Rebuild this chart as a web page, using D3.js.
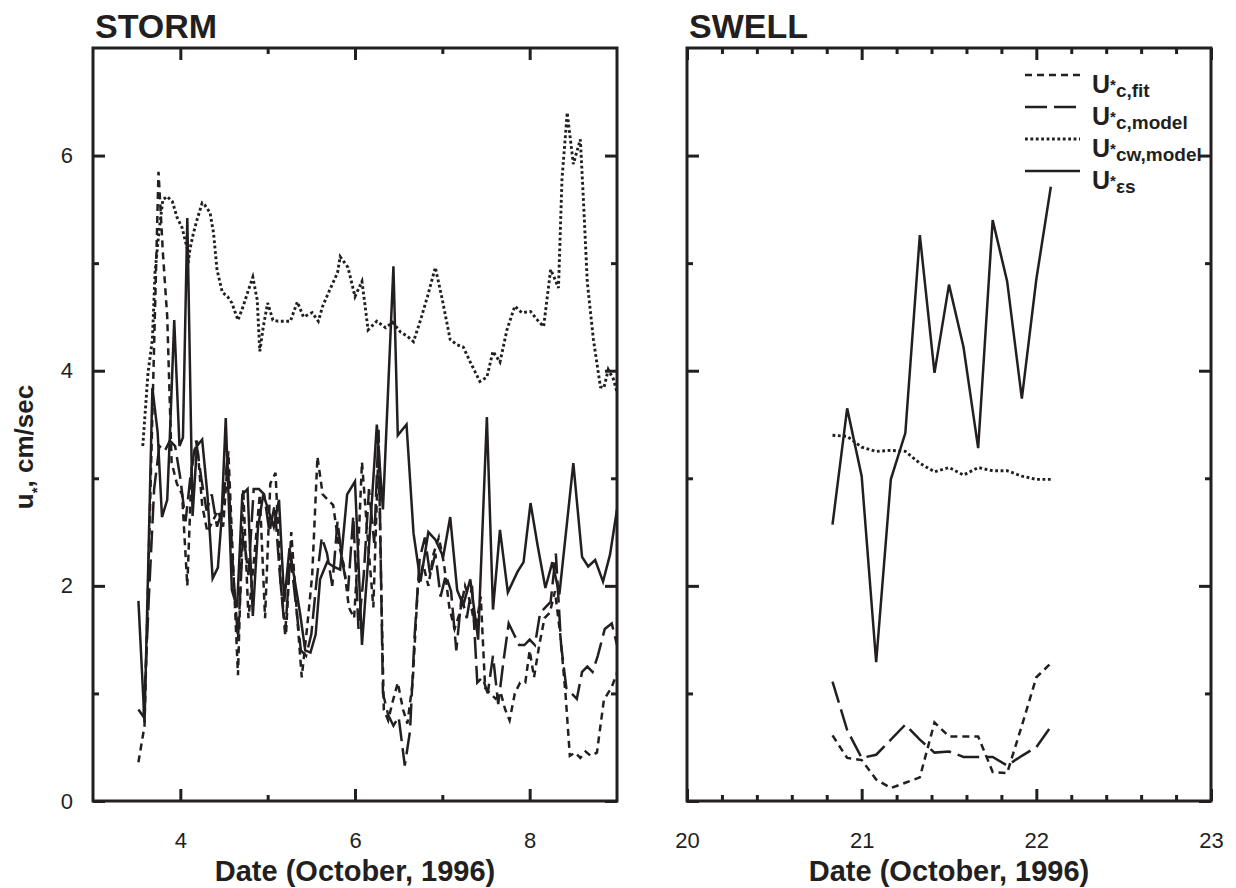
<!DOCTYPE html>
<html>
<head>
<meta charset="utf-8">
<script src="https://cdn.jsdelivr.net/npm/d3@7"></script>
<style>
  html, body { margin: 0; padding: 0; background: #fff; }
  svg { display: block; }
  text { font-family: 'Liberation Sans', Arial, Helvetica, sans-serif; fill: #231f20; }
</style>
</head>
<body>
<svg id="chart" width="1236" height="888"></svg>
<script>
// ---- STORM period (3-9 October 1996) ----
const stormFitDate = [3.52,3.59,3.75,3.80,3.85,3.90,3.96,4.02,4.08,4.13,4.19,4.25,4.31,4.37,4.43,4.49,4.55,4.61,4.66,4.72,4.78,4.85,4.91,4.97,5.03,5.09,5.15,5.21,5.27,5.33,5.39,5.45,5.51,5.57,5.63,5.69,5.75,5.81,5.87,5.93,5.99,6.04,6.08,6.15,6.21,6.27,6.30,6.33,6.38,6.43,6.49,6.55,6.60,6.66,6.72,6.78,6.84,6.90,6.96,7.02,7.08,7.14,7.20,7.26,7.32,7.38,7.44,7.49,7.55,7.61,7.67,7.72,7.77,7.83,7.89,7.95,8.00,8.05,8.11,8.17,8.23,8.29,8.35,8.41,8.46,8.52,8.58,8.64,8.70,8.77,8.85,8.94,9.00];
const stormFit     = [0.36,0.70,5.85,5.10,4.50,3.15,2.95,2.85,2.00,3.10,3.35,2.75,2.50,2.60,2.70,2.55,3.25,2.10,1.17,2.90,1.70,2.30,2.85,1.70,2.95,3.05,2.00,1.55,2.50,1.80,1.15,1.60,2.10,3.20,2.85,2.80,2.75,2.40,2.20,1.80,1.70,2.40,3.15,2.40,1.80,3.30,2.00,0.85,0.75,0.92,1.10,0.85,0.72,1.10,2.00,2.20,2.00,2.30,2.45,2.20,1.80,1.60,1.75,2.00,1.85,1.60,1.90,1.05,1.00,0.95,1.00,0.85,0.75,1.00,1.10,1.10,1.40,1.15,1.45,1.70,1.75,1.95,1.55,1.00,0.42,0.45,0.40,0.46,0.42,0.45,0.94,1.06,1.19];

const stormModelDate = [3.52,3.58,3.64,3.70,3.76,3.82,3.88,3.94,4.00,4.06,4.12,4.18,4.24,4.30,4.36,4.42,4.48,4.54,4.60,4.66,4.72,4.78,4.84,4.90,4.96,5.02,5.08,5.14,5.20,5.26,5.32,5.38,5.44,5.50,5.56,5.62,5.68,5.74,5.80,5.86,5.92,5.98,6.04,6.10,6.16,6.22,6.27,6.32,6.38,6.44,6.50,6.57,6.63,6.68,6.74,6.80,6.86,6.92,6.98,7.04,7.10,7.16,7.22,7.28,7.34,7.40,7.46,7.52,7.58,7.64,7.70,7.76,7.82,7.88,7.94,8.00,8.06,8.12,8.18,8.24,8.30,8.36,8.42,8.48,8.54,8.60,8.66,8.72,8.78,8.86,8.94,9.00];
const stormModel     = [0.85,0.78,1.90,2.90,3.30,3.25,3.35,3.30,3.00,2.60,3.05,3.35,3.00,2.70,2.85,2.55,2.70,3.20,2.20,1.50,2.50,2.10,2.90,2.90,2.85,2.50,2.75,2.10,1.55,2.30,1.85,1.40,1.35,1.55,2.05,2.45,2.30,2.00,2.60,2.20,1.95,2.65,1.60,2.10,2.90,2.40,3.45,1.00,0.80,0.70,0.78,0.33,0.65,1.50,2.25,2.45,2.10,2.30,1.90,2.10,1.95,1.40,1.90,1.70,2.00,1.10,1.15,1.00,1.35,0.90,1.30,1.65,1.55,1.45,1.45,1.50,1.45,1.75,1.80,1.85,2.30,1.45,1.05,1.00,0.95,1.20,1.25,1.20,1.35,1.60,1.65,1.45];

const stormCwDate = [3.57,3.63,3.68,3.71,3.75,3.77,3.80,3.85,3.91,3.96,4.02,4.08,4.09,4.11,4.15,4.19,4.25,4.28,4.34,4.38,4.42,4.48,4.54,4.59,4.66,4.72,4.78,4.83,4.88,4.91,4.95,5.00,5.06,5.12,5.26,5.34,5.41,5.51,5.58,5.63,5.71,5.80,5.83,5.92,6.00,6.08,6.15,6.25,6.35,6.43,6.52,6.60,6.67,6.75,6.83,6.92,7.00,7.09,7.17,7.24,7.32,7.43,7.51,7.58,7.66,7.74,7.83,7.91,8.01,8.09,8.16,8.24,8.29,8.33,8.37,8.43,8.50,8.58,8.61,8.66,8.73,8.81,8.85,8.90,8.96,9.00];
const stormCw     = [3.30,3.98,4.29,4.91,5.25,5.39,5.59,5.62,5.57,5.43,5.33,5.13,5.00,5.13,5.28,5.40,5.56,5.54,5.47,5.28,4.94,4.73,4.69,4.63,4.47,4.60,4.75,4.87,4.66,4.18,4.41,4.63,4.47,4.46,4.46,4.64,4.50,4.54,4.46,4.60,4.75,4.91,5.06,4.96,4.69,4.83,4.38,4.46,4.40,4.45,4.36,4.32,4.27,4.47,4.69,4.96,4.66,4.29,4.24,4.22,4.08,3.90,3.94,4.18,4.08,4.38,4.60,4.54,4.55,4.47,4.41,4.94,4.85,4.77,5.78,6.40,5.92,6.15,5.68,4.82,4.29,3.85,3.84,4.01,3.92,3.80];

const stormEsDate = [3.52,3.59,3.68,3.74,3.79,3.85,3.88,3.93,3.99,4.03,4.08,4.14,4.19,4.25,4.31,4.37,4.43,4.47,4.52,4.59,4.65,4.71,4.77,4.83,4.89,4.95,5.01,5.07,5.13,5.19,5.25,5.31,5.37,5.43,5.49,5.55,5.60,5.68,5.75,5.83,5.91,6.00,6.08,6.15,6.25,6.32,6.44,6.49,6.59,6.67,6.75,6.84,6.92,7.01,7.09,7.17,7.24,7.32,7.41,7.51,7.58,7.66,7.75,7.86,7.93,8.01,8.09,8.18,8.26,8.34,8.50,8.60,8.67,8.75,8.84,8.92,9.00];
const stormEs     = [1.86,0.73,3.84,3.43,2.64,2.80,3.39,4.47,3.30,3.38,5.42,2.65,3.30,3.36,2.85,2.07,2.17,2.60,3.56,1.96,1.80,2.85,2.90,1.72,2.55,2.85,2.70,2.55,2.80,1.85,2.35,2.05,1.75,1.40,1.38,1.55,2.06,2.22,2.18,2.15,2.85,2.97,1.45,2.24,3.50,2.71,4.97,3.40,3.50,2.49,2.04,2.50,2.43,2.27,2.64,1.96,1.82,2.06,1.50,3.57,1.78,2.52,1.94,2.13,2.22,2.77,2.38,1.98,2.22,1.92,3.14,2.27,2.18,2.24,2.04,2.29,2.71];

// ---- SWELL period (20-23 October 1996), two-hourly ----
const swellDate  = [20.833,20.917,21.0,21.083,21.167,21.25,21.333,21.417,21.5,21.583,21.667,21.75,21.833,21.917,22.0,22.083];
const swellFit   = [0.61,0.40,0.38,0.20,0.12,0.17,0.22,0.73,0.60,0.60,0.60,0.27,0.26,0.70,1.15,1.28];
const swellModel = [1.11,0.66,0.40,0.43,0.57,0.71,0.57,0.45,0.46,0.41,0.41,0.41,0.33,0.42,0.50,0.69];
const swellCw    = [3.40,3.39,3.29,3.25,3.26,3.25,3.14,3.06,3.10,3.03,3.10,3.07,3.07,3.02,2.99,2.99];
const swellEs    = [2.57,3.65,3.02,1.29,2.99,3.42,5.26,3.98,4.80,4.22,3.28,5.40,4.83,3.74,4.85,5.71];

// ---- axis ticks ----
const yMajor = [0, 2, 4, 6];
const yMinor = [1, 3, 5];
const stormMajor = [4, 6, 8];
const stormMinor = [5, 7];
const swellMajor = [20, 21, 22, 23];
const swellMinor = d3.range(20.2, 23, 0.2).filter(v => Math.abs(v - Math.round(v)) > 0.05);

const INK = "#231f20";
const styles = {
  fit:   { dash: "7,5",   width: 2.5 },
  model: { dash: "22,7",  width: 2.5 },
  cw:    { dash: "2.8,2.6", width: 2.9 },
  es:    { dash: null,    width: 2.5 }
};

const svg = d3.select("#chart");
const y = d3.scaleLinear().domain([0, 7]).range([801, 48]);

function panel(id, xDomain, xRange, major, minor, showYLabels, series, title) {
  const x = d3.scaleLinear().domain(xDomain).range(xRange);
  const g = svg.append("g");
  const [x0, x1] = xRange;
  const [yb, yt] = [y(0), y(7)];

  g.append("clipPath").attr("id", id).append("rect")
    .attr("x", x0).attr("y", yt).attr("width", x1 - x0).attr("height", yb - yt);

  const line = d3.line().x(d => x(d[0])).y(d => y(d[1]));
  const lines = g.append("g").attr("clip-path", `url(#${id})`);
  series.forEach(s => {
    lines.append("path")
      .datum(s.dates.map((d, i) => [d, s.values[i]]))
      .attr("d", line)
      .attr("fill", "none")
      .attr("stroke", INK)
      .attr("stroke-width", styles[s.key].width)
      .attr("stroke-dasharray", styles[s.key].dash)
      .attr("stroke-linejoin", "miter");
  });

  const styleAxis = sel => {
    sel.select(".domain").remove();
    sel.selectAll(".tick line").attr("stroke", INK).attr("stroke-width", 3);
    sel.selectAll(".tick text").attr("fill", INK)
      .style("font-size", "22px");
  };

  // bottom
  g.append("g").attr("transform", `translate(0,${yb})`)
    .call(d3.axisBottom(x).tickValues(major).tickSize(-12).tickPadding(31).tickFormat(d3.format("d")))
    .call(styleAxis);
  g.append("g").attr("transform", `translate(0,${yb})`)
    .call(d3.axisBottom(x).tickValues(minor).tickSize(-6).tickFormat(""))
    .call(styleAxis);
  // top
  g.append("g").attr("transform", `translate(0,${yt})`)
    .call(d3.axisTop(x).tickValues(major).tickSize(-12).tickFormat(""))
    .call(styleAxis);
  g.append("g").attr("transform", `translate(0,${yt})`)
    .call(d3.axisTop(x).tickValues(minor).tickSize(-6).tickFormat(""))
    .call(styleAxis);
  // left
  g.append("g").attr("transform", `translate(${x0},0)`)
    .call(d3.axisLeft(y).tickValues(yMajor).tickSize(-12).tickPadding(20)
      .tickFormat(showYLabels ? d3.format("d") : ""))
    .call(styleAxis);
  g.append("g").attr("transform", `translate(${x0},0)`)
    .call(d3.axisLeft(y).tickValues(yMinor).tickSize(-6).tickFormat(""))
    .call(styleAxis);
  // right
  g.append("g").attr("transform", `translate(${x1},0)`)
    .call(d3.axisRight(y).tickValues(yMajor).tickSize(-12).tickFormat(""))
    .call(styleAxis);
  g.append("g").attr("transform", `translate(${x1},0)`)
    .call(d3.axisRight(y).tickValues(yMinor).tickSize(-6).tickFormat(""))
    .call(styleAxis);

  // frame
  g.append("rect")
    .attr("x", x0).attr("y", yt).attr("width", x1 - x0).attr("height", yb - yt)
    .attr("fill", "none").attr("stroke", INK).attr("stroke-width", 3);

  // title and axis title
  g.append("text").attr("x", x0 + 2).attr("y", 38)
    .style("font-size", "34px").style("font-weight", "bold").text(title);
  g.append("text").attr("x", (x0 + x1) / 2).attr("y", 881)
    .attr("text-anchor", "middle")
    .style("font-size", "29px").style("font-weight", "bold")
    .text("Date (October, 1996)");
  return x;
}

panel("clip-storm", [3, 9], [93, 617], stormMajor, stormMinor, true, [
  { key: "fit",   dates: stormFitDate,   values: stormFit },
  { key: "model", dates: stormModelDate, values: stormModel },
  { key: "cw",    dates: stormCwDate,    values: stormCw },
  { key: "es",    dates: stormEsDate,    values: stormEs }
], "STORM");

panel("clip-swell", [20, 23], [687, 1211], swellMajor, swellMinor, false, [
  { key: "fit",   dates: swellDate, values: swellFit },
  { key: "model", dates: swellDate, values: swellModel },
  { key: "cw",    dates: swellDate, values: swellCw },
  { key: "es",    dates: swellDate, values: swellEs }
], "SWELL");

// y-axis title: u*, cm/sec
const yTitle = svg.append("text")
  .attr("transform", "translate(33,447) rotate(-90)")
  .attr("text-anchor", "middle")
  .style("font-size", "26px").style("font-weight", "bold");
yTitle.append("tspan").text("u");
yTitle.append("tspan").attr("dy", 9).style("font-size", "15px").text("*");
yTitle.append("tspan").attr("dy", -9).text(", cm/sec");

// legend
const legend = [
  { key: "fit",   sub: "c,fit" },
  { key: "model", sub: "c,model" },
  { key: "cw",    sub: "cw,model" },
  { key: "es",    sub: "\u03b5s" }
];
const lg = svg.append("g");
const legendRowY = d3.scalePoint().domain(legend.map(d => d.key)).range([75, 171]);
legend.forEach(d => {
  const ly = legendRowY(d.key);
  lg.append("line")
    .attr("x1", 1025).attr("x2", 1080).attr("y1", ly).attr("y2", ly)
    .attr("stroke", INK).attr("stroke-width", styles[d.key].width)
    .attr("stroke-dasharray", styles[d.key].dash);
  const t = lg.append("text").attr("x", 1092).attr("y", ly + 18)
    .style("font-weight", "bold");
  t.append("tspan").style("font-size", "25px").text("U");
  t.append("tspan").attr("dy", -3).style("font-size", "15px").text("*");
  t.append("tspan").attr("dy", 7).style("font-size", "19px").text(d.sub);
});
</script>
</body>
</html>
